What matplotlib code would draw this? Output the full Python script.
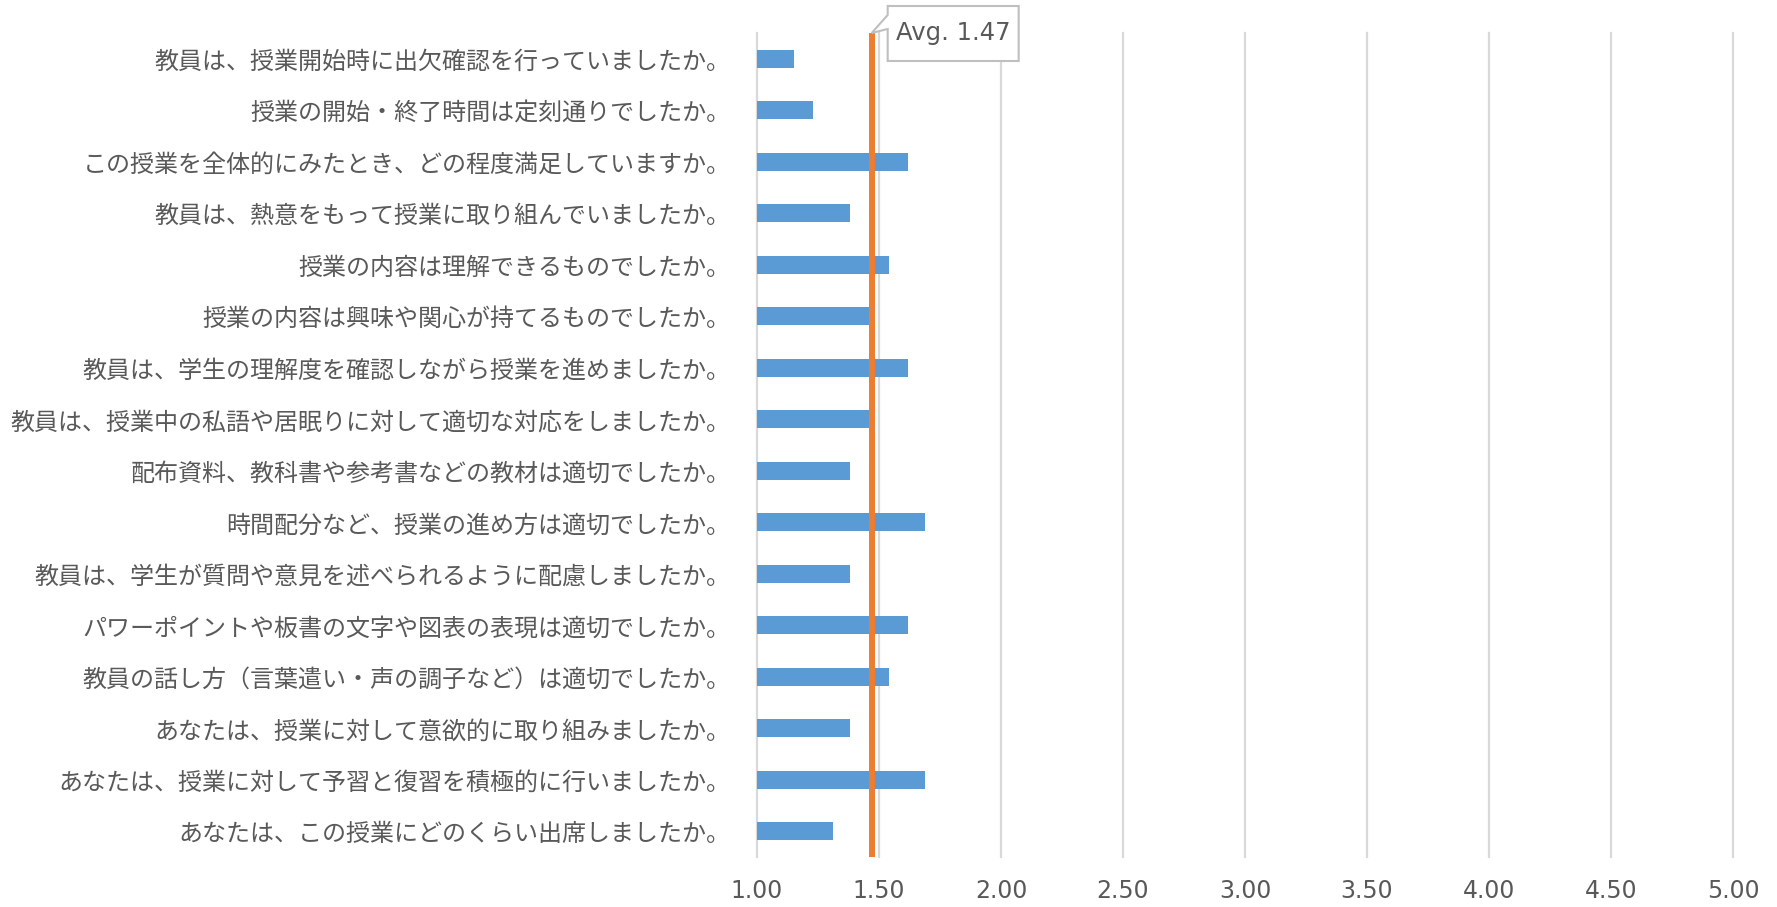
import numpy as np
import matplotlib
matplotlib.use("Agg")
import matplotlib.pyplot as plt
from matplotlib.patches import Polygon
from matplotlib.transforms import IdentityTransform

plt.rcParams['font.family'] = ['Noto Sans CJK JP', 'DejaVu Sans']

# データ（上から順）
questions = [
    "教員は、授業開始時に出欠確認を行っていましたか。",
    "授業の開始・終了時間は定刻通りでしたか。",
    "この授業を全体的にみたとき、どの程度満足していますか。",
    "教員は、熱意をもって授業に取り組んでいましたか。",
    "授業の内容は理解できるものでしたか。",
    "授業の内容は興味や関心が持てるものでしたか。",
    "教員は、学生の理解度を確認しながら授業を進めましたか。",
    "教員は、授業中の私語や居眠りに対して適切な対応をしましたか。",
    "配布資料、教科書や参考書などの教材は適切でしたか。",
    "時間配分など、授業の進め方は適切でしたか。",
    "教員は、学生が質問や意見を述べられるように配慮しましたか。",
    "パワーポイントや板書の文字や図表の表現は適切でしたか。",
    "教員の話し方（言葉遣い・声の調子など）は適切でしたか。",
    "あなたは、授業に対して意欲的に取り組みましたか。",
    "あなたは、授業に対して予習と復習を積極的に行いましたか。",
    "あなたは、この授業にどのくらい出席しましたか。",
]
scores = [1.15, 1.23, 1.62, 1.38, 1.54, 1.46, 1.62, 1.46,
          1.38, 1.69, 1.38, 1.62, 1.54, 1.38, 1.69, 1.31]
avg = 1.47
x_ticks = [1.00, 1.50, 2.00, 2.50, 3.00, 3.50, 4.00, 4.50, 5.00]

bar_color = '#5B9BD5'
avg_color = '#ED7D31'
text_color = '#595959'
grid_color = '#D9D9D9'

fig = plt.figure(figsize=(17.77, 9.07), dpi=100)
ax = fig.add_axes([757 / 1777, 1 - 857 / 907, (1733 - 757) / 1777, (857 - 33) / 907])

pos = np.arange(len(questions))
ax.barh(pos, np.array(scores) - 1.0, left=1.0, height=0.345, color=bar_color, zorder=2)
ax.set_ylim(len(questions) - 0.5, -0.5)
ax.set_xlim(1.0, 5.0)

ax.set_yticks(pos)
ax.set_yticklabels(questions, fontsize=17.3, color=text_color)
ax.set_xticks(x_ticks)
ax.set_xticklabels([f"{t:.2f}" for t in x_ticks], fontsize=17, color=text_color,
                   family='DejaVu Sans')
ax.tick_params(axis='y', length=0, pad=19)
ax.tick_params(axis='x', length=0, pad=16)

for s in ax.spines.values():
    s.set_visible(False)
for t in x_ticks:
    ax.axvline(t, color=grid_color, lw=1.6, zorder=1, clip_on=False)

# 平均線
ax.axvline(avg, color=avg_color, lw=4.3, zorder=3)

# 吹き出し
x0, y0 = ax.get_xaxis_transform().transform((avg, 1.0))
L, R, T, B = x0 + 16, x0 + 147, y0 + 27, y0 - 28
callout = Polygon([(L, T), (R, T), (R, B), (L, B), (L, y0 + 4), (x0, y0), (L, y0 + 18)],
                  closed=True, fc='white', ec='#BFBFBF', lw=1.5,
                  transform=IdentityTransform(), zorder=5, clip_on=False)
fig.add_artist(callout)
fig.text((L + R) / 2, y0, f"Avg. {avg:.2f}", transform=IdentityTransform(),
         ha='center', va='center', fontsize=17.5, color=text_color,
         family='DejaVu Sans', zorder=6)

fig.savefig('out.png', dpi=100)
